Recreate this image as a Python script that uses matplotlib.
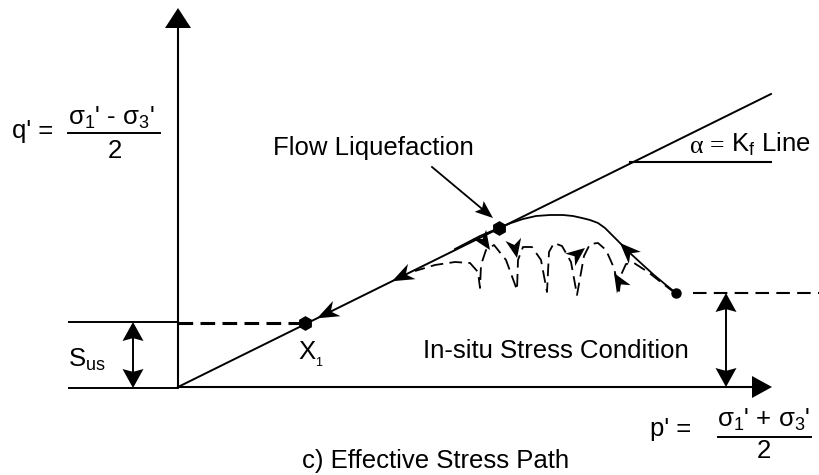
import numpy as np
import matplotlib
matplotlib.use("Agg")
import matplotlib.pyplot as plt

plt.rcParams['font.family'] = ['Liberation Sans', 'DejaVu Sans']
plt.rcParams['mathtext.fontset'] = 'custom'
plt.rcParams['mathtext.rm'] = 'Liberation Sans'
plt.rcParams['mathtext.it'] = 'Liberation Sans:italic'
plt.rcParams['mathtext.bf'] = 'Liberation Sans:bold'

# ---------------- data (diagram units, origin at p' = 0, q' = 0) ----------------
p_axis_max = 594
q_axis_max = 379
kf_line_p = [0, 593]
kf_line_q = [0, 293]
x1_point = [127, 64]
flow_point = [321, 159]
insitu_point = [498, 94]
sus_line_left = -109
insitu_dash_p = [515, 642]

# monotonic (flow liquefaction) effective stress path
solid_path_p = [498, 488, 476, 465, 453, 442, 433, 427, 420, 412, 404, 395, 385, 372,
                358, 345, 333, 321, 302, 277]
solid_path_q = [94, 102, 112, 122, 133, 144, 153, 159, 164, 167, 169, 171, 172, 172,
                171, 168, 164, 159, 151, 138]

# cyclic effective stress path
cyclic_path_p = [497, 484, 470, 456, 448, 443, 441, 436, 428, 420, 412, 406, 399, 393,
                 384, 376, 371, 369, 363, 354, 345, 340, 339, 328, 316, 308, 303, 302,
                 300, 292, 277, 257, 237]
cyclic_path_q = [94, 104, 115, 124, 123, 112, 96, 119, 137, 144, 143, 131, 92, 125,
                 141, 144, 135, 95, 127, 140, 140, 127, 97, 127, 142, 137, 122, 99,
                 115, 124, 125, 122, 116]

q_label = "q' ="
q_numer = r"$\mathregular{σ_1}$' - $\mathregular{σ_3}$'"
p_label = "p' ="
p_numer = r"$\mathregular{σ_1}$' + $\mathregular{σ_3}$'"
denom = "2"
flow_label = "Flow Liquefaction"
kf_label_a = "α = "
kf_label_b = r"$\mathregular{K_f}$ Line"
insitu_label = "In-situ Stress Condition"
sus_label = r"$\mathregular{S_{us}}$"
x1_label = r"$\mathregular{X_{_1}}$"
caption = "c) Effective Stress Path"

# ---------------- drawing ----------------
fig = plt.figure(figsize=(8.2, 4.75), dpi=100)
ax = fig.add_axes([0, 0, 1, 1])
ax.set_xlim(-178, 642)
ax.set_ylim(-88, 387)
ax.axis('off')

K = 'black'
FS = 18.5


def head(tip, d, L=20, W=20, notch=0.0):
    d = np.asarray(d, float)
    d = d / np.hypot(*d)
    n = np.array([-d[1], d[0]])
    tip = np.asarray(tip, float)
    base = tip - d * L
    pts = np.array([tip, base + n * W / 2, tip - d * L * (1 - notch), base - n * W / 2])
    ax.fill(pts[:, 0], pts[:, 1], color=K, lw=0, zorder=6)


# axes
ax.plot([0, 0], [0, q_axis_max - 18], color=K, lw=1.5, solid_capstyle='butt')
head((0, q_axis_max), (0, 1), L=20, W=26)
ax.plot([0, p_axis_max - 18], [0, 0], color=K, lw=1.5, solid_capstyle='butt')
head((p_axis_max, 0), (1, 0), L=20, W=22)

# failure (Kf) line
ax.plot(kf_line_p, kf_line_q, color=K, lw=1.4)
slope = kf_line_q[1] / kf_line_p[1]
for tp in (214, 139):
    head((tp, tp * slope), (-kf_line_p[1], -kf_line_q[1]), L=22, W=17, notch=0.3)

# Kf label underline
ax.plot([452, 593], [225, 225], color=K, lw=1.5)

# S_us region
ax.plot([sus_line_left, 0], [x1_point[1] + 1, x1_point[1] + 1], color=K, lw=1.4)
ax.plot([sus_line_left, 0], [-1, -1], color=K, lw=1.4)
ax.plot([0, x1_point[0]], [x1_point[1], x1_point[1]], color=K, lw=2.2,
        dashes=(4.8, 2.4))
ax.plot([-45, -45], [x1_point[1] - 15, 15], color=K, lw=1.4)
head((-45, x1_point[1] + 1), (0, 1), L=19, W=21, notch=0.15)
head((-45, -1), (0, -1), L=19, W=21, notch=0.15)

# in-situ region
ax.plot(insitu_dash_p, [insitu_point[1], insitu_point[1]], color=K, lw=1.5,
        dashes=(6.5, 3.5))
ax.plot([548, 548], [insitu_point[1] - 15, 15], color=K, lw=1.4)
head((548, insitu_point[1]), (0, 1), L=19, W=21, notch=0.15)
head((548, 0), (0, -1), L=19, W=21, notch=0.15)

# stress paths
ax.plot(solid_path_p, solid_path_q, color=K, lw=1.3)
head((442, 144), (-20, 20), L=21, W=17, notch=0.3)

ax.plot(cyclic_path_p, cyclic_path_q, color=K, lw=1.3, dashes=(7, 3.5))
head((312, 137), (1, -1.5), L=19, W=16, notch=0.3)
head((339, 129), (0.2, -1), L=19, W=16, notch=0.3)
head((407, 139), (1, 0.8), L=19, W=16, notch=0.3)
head((436, 114), (-0.6, 1), L=19, W=16, notch=0.3)

# points
ax.plot(*flow_point, marker='h', ms=9.5, color=K, zorder=7)
ax.plot(*x1_point, marker='h', ms=9.5, color=K, zorder=7)
ax.plot(*insitu_point, marker='o', ms=6.5, color=K, zorder=7)

# flow liquefaction pointer
ax.plot([254, 309], [220, 174], color=K, lw=1.3)
head((315, 169), (61, -51), L=18, W=14, notch=0.2)

# texts
ax.text(95, 232, flow_label, fontsize=FS, va='baseline', ha='left')
t_a = ax.text(512, 234, kf_label_a, fontsize=FS, va='baseline', ha='left',
              family='Liberation Serif')
ax.annotate(kf_label_b, xy=(1, 0), xycoords=t_a, fontsize=FS, va='bottom', ha='left')
ax.text(245, 29, insitu_label, fontsize=FS, va='baseline', ha='left')
ax.text(-110, 20, sus_label, fontsize=FS, va='baseline', ha='left')
ax.text(120, 27, x1_label, fontsize=FS, va='baseline', ha='left')

# q' definition
ax.text(-166, 249, q_label, fontsize=FS, va='baseline', ha='left')
ax.text(-110, 262, q_numer, fontsize=FS, va='baseline', ha='left')
ax.plot([-110, -18], [254, 254], color=K, lw=1.4)
ax.text(-63, 229, denom, fontsize=FS, va='baseline', ha='center')

# p' definition
ax.text(472, -49, p_label, fontsize=FS, va='baseline', ha='left')
ax.text(539, -40, p_numer, fontsize=FS, va='baseline', ha='left')
ax.plot([540, 633], [-50, -50], color=K, lw=1.4)
ax.text(586, -71, denom, fontsize=FS, va='baseline', ha='center')

ax.text(124, -81, caption, fontsize=FS, va='baseline', ha='left')

fig.savefig("out.png", dpi=100)
